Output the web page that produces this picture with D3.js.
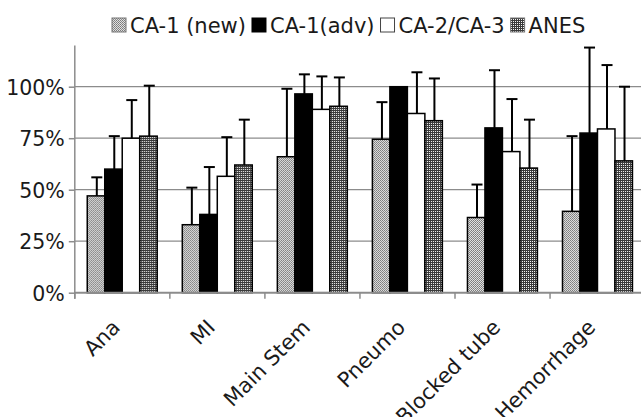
<!DOCTYPE html>
<html><head><meta charset="utf-8">
<script src="https://cdn.jsdelivr.net/npm/d3@7"></script>
<style>body{margin:0;background:#fff}svg{display:block}text{font-family:"DejaVu Sans",Verdana,sans-serif;fill:#1a1a1a}</style>
</head><body><svg id="c" width="641" height="417"></svg>
<script>
const categories = ["Ana","MI","Main Stem","Pneumo","Blocked tube","Hemorrhage"];
const seriesNames = ["CA-1 (new)","CA-1(adv)","CA-2/CA-3","ANES"];
const ca1New = [47, 33, 66, 74.5, 36.5, 39.5];
const ca1Adv = [60, 38, 96.5, 100, 80, 77.5];
const ca23   = [75, 56.5, 89, 87, 68.5, 79.5];
const anes   = [76, 62, 90.5, 83.5, 60.5, 64];
const errNew = [9, 18, 33, 18, 16, 36.5];
const errAdv = [16, 23, 9.5, 0, 28, 41.5];
const err23  = [18.5, 19, 16, 20, 25.5, 31];
const errAnes= [24.5, 22, 14, 20.5, 23.5, 36];
const yTicks = [0, 25, 50, 75, 100];

const values = [ca1New, ca1Adv, ca23, anes];
const errs = [errNew, errAdv, err23, errAnes];

const svg = d3.select("#c");
const defs = svg.append("defs");
const p1 = defs.append("pattern").attr("id","pNew").attr("patternUnits","userSpaceOnUse").attr("width",2).attr("height",2);
p1.append("rect").attr("width",2).attr("height",2).attr("fill","#e0e0e0");
p1.append("rect").attr("width",1).attr("height",1).attr("fill","#7a7a7a");
p1.append("rect").attr("x",1).attr("y",1).attr("width",1).attr("height",1).attr("fill","#8a8a8a");
const p4 = defs.append("pattern").attr("id","pAnes").attr("patternUnits","userSpaceOnUse").attr("width",2).attr("height",2);
p4.append("rect").attr("width",2).attr("height",2).attr("fill","#f4f4f4");
p4.append("rect").attr("width",2).attr("height",1).attr("fill","#3a3a3a");
p4.append("rect").attr("width",1).attr("height",2).attr("fill","#3a3a3a");
const fills = ["url(#pNew)","#000","#fff","url(#pAnes)"];

const left = 74.8, right = 645.1, y0 = 292.7, yTop = 45.5;
const x0 = d3.scaleBand().domain(categories).range([left, right]).padding(0);
const bw = x0.bandwidth();
const x1 = d3.scaleBand().domain(seriesNames).range([bw*0.131, bw*0.867]).padding(0);
const y = d3.scaleLinear().domain([0, 120]).range([y0, yTop]);

svg.append("g").selectAll("line").data(yTicks.filter(d=>d>0)).join("line")
  .attr("x1", left).attr("x2", 641).attr("y1", d=>y(d)).attr("y2", d=>y(d))
  .attr("stroke","#8c8c8c").attr("stroke-width",1.2);

const yAxis = d3.axisLeft(y).tickValues(yTicks).tickFormat(d=>d+"%").tickSize(6).tickPadding(4);
const gy = svg.append("g").attr("transform",`translate(${left},0)`).call(yAxis);
gy.select(".domain").attr("stroke","#8c8c8c").attr("stroke-width",1.5).attr("d",`M0,${yTop}V${y0+6}`);
gy.selectAll(".tick line").attr("stroke","#8c8c8c").attr("stroke-width",1.5);
gy.selectAll(".tick text").style("font-size","20.5px").attr("fill","#1a1a1a").attr("dy","0.36em");

const groups = svg.append("g").selectAll("g").data(categories).join("g")
  .attr("transform", c=>`translate(${x0(c)},0)`);
groups.each(function(c, ci){
  const g = d3.select(this);
  seriesNames.forEach((s, si)=>{
    const v = values[si][ci];
    g.append("rect").attr("x", x1(s)).attr("width", x1.bandwidth())
      .attr("y", y(v)).attr("height", y0 - y(v))
      .attr("fill", fills[si]).attr("stroke","#000").attr("stroke-width",1.5);
  });
  seriesNames.forEach((s, si)=>{
    const v = values[si][ci], e = errs[si][ci];
    if (e <= 0) return;
    const cx = x1(s) + x1.bandwidth()/2 + 0.8;
    g.append("line").attr("x1",cx).attr("x2",cx).attr("y1",y(v)).attr("y2",y(v+e))
      .attr("stroke","#000").attr("stroke-width",2);
    g.append("line").attr("x1",cx-5.5).attr("x2",cx+5.5).attr("y1",y(v+e)).attr("y2",y(v+e))
      .attr("stroke","#000").attr("stroke-width",2);
  });
});

const xAxis = d3.axisBottom(x0).tickSize(0).tickFormat("");
const gx = svg.append("g").attr("transform",`translate(0,${y0})`).call(xAxis);
gx.select(".domain").attr("stroke","#8c8c8c").attr("stroke-width",2).attr("d",`M${left},0H641`);
gx.selectAll(".tick").remove();
svg.append("g").selectAll("line").data(categories).join("line")
  .attr("x1", c=>x0(c)).attr("x2", c=>x0(c)).attr("y1", y0).attr("y2", y0+6)
  .attr("stroke","#8c8c8c").attr("stroke-width",1.5);
svg.append("g").selectAll("text").data(categories).join("text")
  .attr("transform", c=>`translate(${x0(c)+bw/2-1},${y0+36}) rotate(-45)`)
  .attr("text-anchor","end").style("font-size","21px").text(c=>c);

const lg = svg.append("g");
let lx = 112;
seriesNames.forEach((s, si)=>{
  lg.append("rect").attr("x", lx).attr("y", 18).attr("width", 14).attr("height", 14)
    .attr("fill", fills[si]).attr("stroke", si==2 ? "#444" : (si==1?"#000":"#777")).attr("stroke-width",1);
  const t = lg.append("text").attr("x", lx+18).attr("y", 32.5).style("font-size","21px").text(s);
  lx += 18 + t.node().getComputedTextLength() + 6;
});
</script></body></html>
